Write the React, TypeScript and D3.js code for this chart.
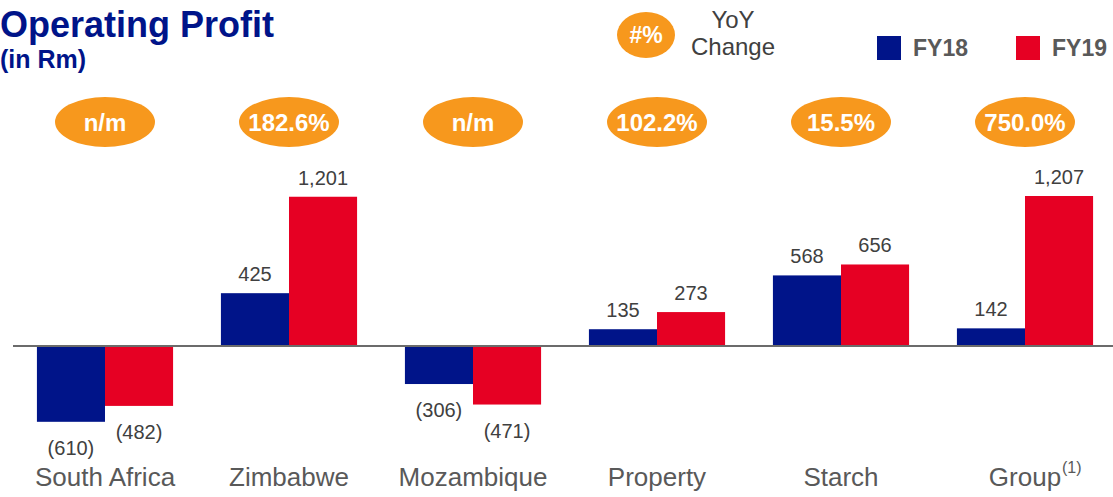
import * as React from 'react';
import { useEffect, useRef } from 'react';
import * as d3 from 'd3';

// Chart data
const categories = ['South Africa', 'Zimbabwe', 'Mozambique', 'Property', 'Starch', 'Group'];
const fy18 = [-610, 425, -306, 135, 568, 142];
const fy19 = [-482, 1201, -471, 273, 656, 1207];
const yoyChange = ['n/m', '182.6%', 'n/m', '102.2%', '15.5%', '750.0%'];
const seriesNames = ['FY18', 'FY19'];

const NAVY = '#001489';
const RED = '#E60023';
const ORANGE = '#F7981D';
const FONT = '"Liberation Sans", Arial, sans-serif';

const width = 1113;
const height = 497;

const fmt = (v: number) => (v < 0 ? `(${d3.format(',')(-v)})` : d3.format(',')(v));

const App: React.FC = () => {
  const svgRef = useRef<SVGSVGElement | null>(null);

  useEffect(() => {
    const svg = d3.select(svgRef.current);
    svg.selectAll('*').remove();
    svg.attr('font-family', FONT);

    // Scales
    const x = d3.scaleBand<string>().domain(categories).range([13, 1117]).paddingInner(0.26).paddingOuter(0.13);
    const xInner = d3.scaleBand<string>().domain(seriesNames).range([0, x.bandwidth()]);
    const y = d3.scaleLinear().domain([0, 1207]).range([346, 196]);
    const color = d3.scaleOrdinal<string, string>().domain(seriesNames).range([NAVY, RED]);

    // Title
    svg.append('text').attr('x', 0).attr('y', 37).attr('fill', NAVY)
      .attr('font-size', 36).attr('font-weight', 'bold').text('Operating Profit');
    svg.append('text').attr('x', 0).attr('y', 68).attr('fill', NAVY)
      .attr('font-size', 25).attr('font-weight', 'bold').text('(in Rm)');

    // Legend
    const lg = svg.append('g');
    lg.append('ellipse').attr('cx', 646).attr('cy', 35).attr('rx', 29).attr('ry', 23).attr('fill', ORANGE);
    lg.append('text').attr('x', 646).attr('y', 43).attr('text-anchor', 'middle').attr('fill', 'white')
      .attr('font-size', 23).attr('font-weight', 'bold').text('#%');
    lg.append('text').attr('x', 733).attr('y', 28).attr('text-anchor', 'middle').attr('fill', '#404040')
      .attr('font-size', 24).text('YoY');
    lg.append('text').attr('x', 733).attr('y', 55).attr('text-anchor', 'middle').attr('fill', '#404040')
      .attr('font-size', 24).text('Change');

    const legendItems = lg.selectAll('g.item')
      .data(seriesNames)
      .enter().append('g')
      .attr('class', 'item')
      .attr('transform', (_, i) => `translate(${877 + i * 139},36)`);
    legendItems.append('rect').attr('width', 24).attr('height', 24).attr('fill', d => color(d));
    legendItems.append('text').attr('x', 36).attr('y', 20).attr('fill', '#595959')
      .attr('font-size', 23).attr('font-weight', 'bold').text(d => d);

    // YoY ellipses
    const yoy = svg.append('g').selectAll('g')
      .data(categories)
      .enter().append('g')
      .attr('transform', d => `translate(${(x(d) ?? 0) + x.bandwidth() / 2},122)`);
    yoy.append('ellipse').attr('rx', 50).attr('ry', 25).attr('fill', ORANGE);
    yoy.append('text').attr('y', 9).attr('text-anchor', 'middle').attr('fill', 'white')
      .attr('font-size', 24).attr('font-weight', 'bold').text((_, i) => yoyChange[i]);

    // Bars
    const rows = categories.flatMap((c, i) => [
      { cat: c, series: 'FY18', value: fy18[i] },
      { cat: c, series: 'FY19', value: fy19[i] },
    ]);

    const bars = svg.append('g');
    bars.selectAll('rect')
      .data(rows)
      .enter().append('rect')
      .attr('x', d => (x(d.cat) ?? 0) + (xInner(d.series) ?? 0))
      .attr('width', xInner.bandwidth())
      .attr('y', d => y(Math.max(0, d.value)))
      .attr('height', d => Math.abs(y(d.value) - y(0)))
      .attr('fill', d => color(d.series));

    // Value labels
    bars.selectAll('text')
      .data(rows)
      .enter().append('text')
      .attr('x', d => (x(d.cat) ?? 0) + (xInner(d.series) ?? 0) + xInner.bandwidth() / 2)
      .attr('y', d => (d.value >= 0 ? y(d.value) - 12 : y(d.value) + 33))
      .attr('text-anchor', 'middle')
      .attr('fill', '#404040')
      .attr('font-size', 20)
      .text(d => fmt(d.value));

    // Zero line
    svg.append('line')
      .attr('x1', 13).attr('x2', width)
      .attr('y1', y(0)).attr('y2', y(0))
      .attr('stroke', '#6b6b6b').attr('stroke-width', 2);

    // Category labels
    svg.append('g').selectAll('text')
      .data(categories)
      .enter().append('text')
      .attr('x', d => (x(d) ?? 0) + x.bandwidth() / 2)
      .attr('y', 486)
      .attr('text-anchor', 'middle')
      .attr('fill', '#595959')
      .attr('font-size', 26)
      .text(d => d);

    // Footnote marker on Group
    svg.append('text')
      .attr('x', (x('Group') ?? 0) + x.bandwidth() / 2 + 37)
      .attr('y', 473)
      .attr('fill', '#595959')
      .attr('font-size', 16)
      .text('(1)');
  }, []);

  return (
    <svg ref={svgRef} width={width} height={height} style={{ position: 'absolute', left: 0, top: 0 }}></svg>
  );
};

export default App;
